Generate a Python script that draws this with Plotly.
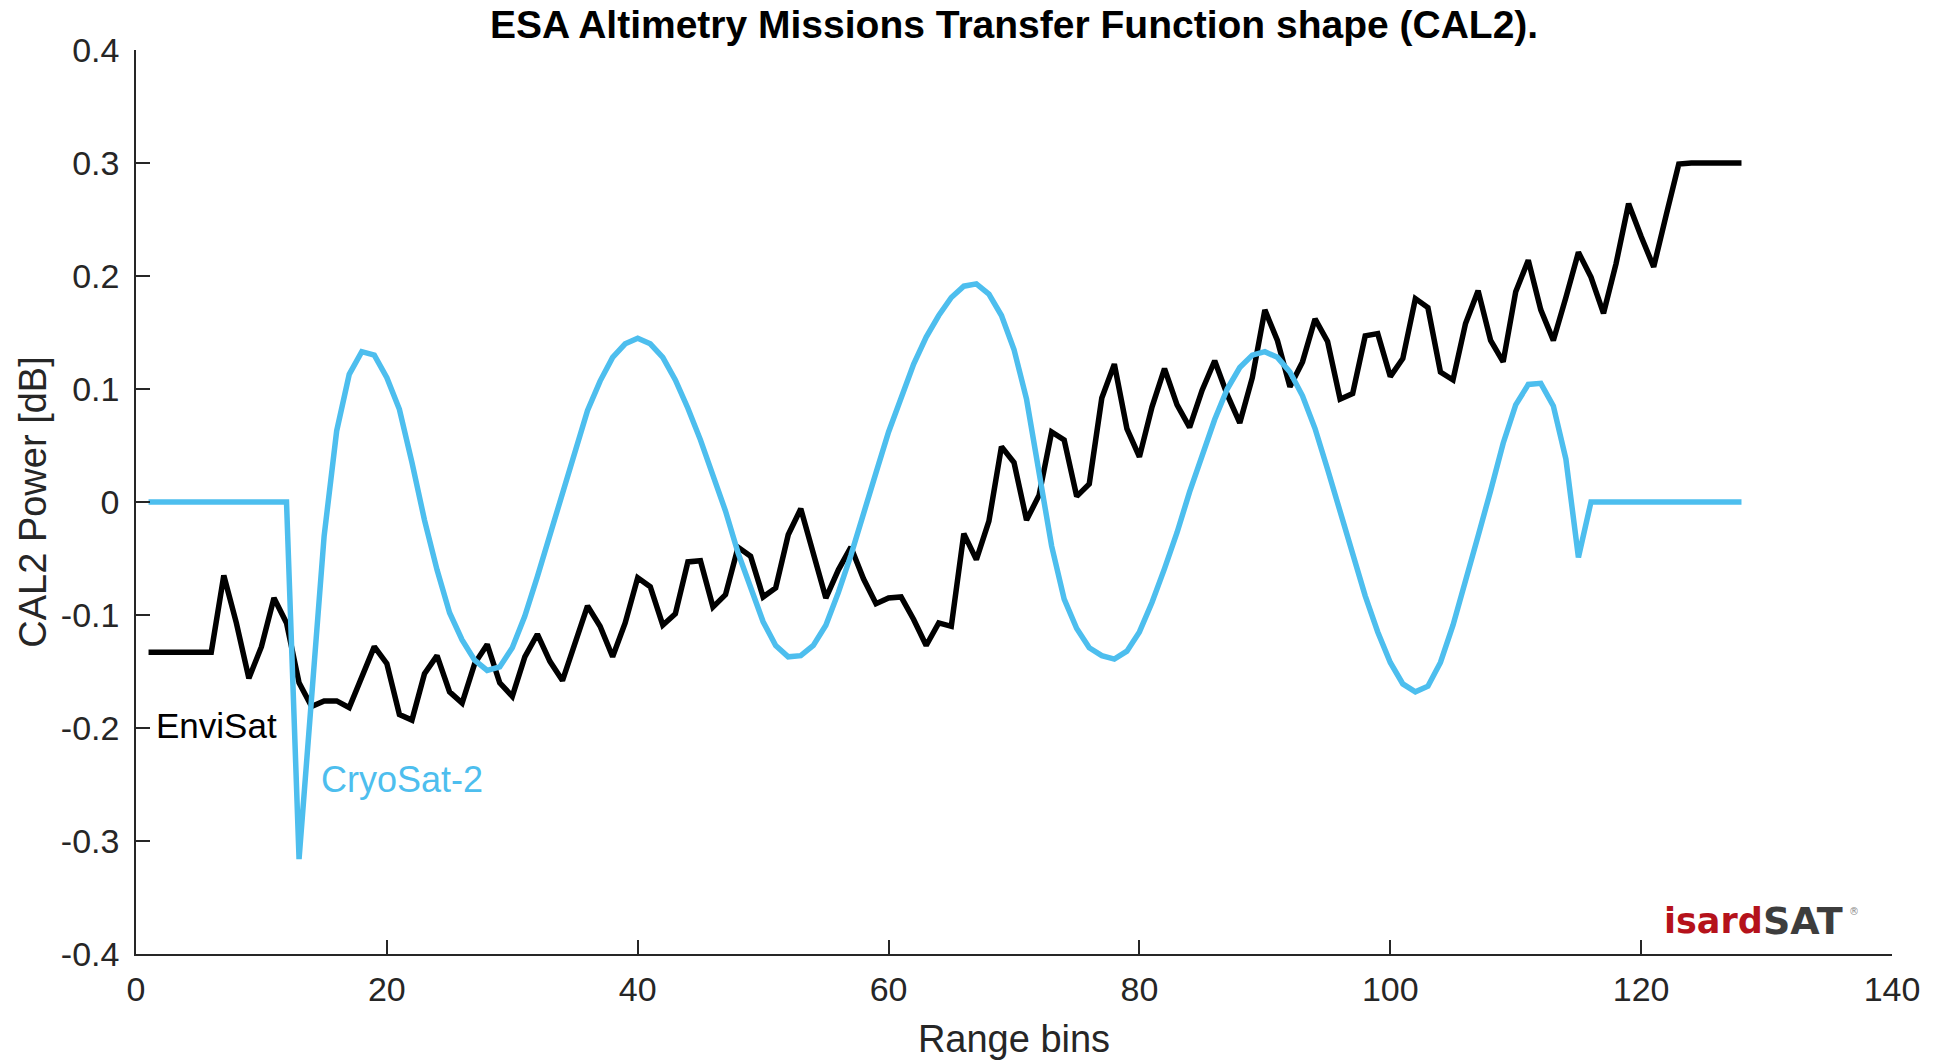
import plotly.graph_objects as go

# ---- data ----
bins = list(range(1, 129))

envisat = [
    -0.133, -0.133, -0.133, -0.133, -0.133, -0.133, -0.065, -0.107, -0.156, -0.128,
    -0.085, -0.107, -0.160, -0.181, -0.176, -0.176, -0.182, -0.155, -0.128, -0.143,
    -0.188, -0.193, -0.152, -0.136, -0.168, -0.178, -0.143, -0.126, -0.160, -0.172,
    -0.137, -0.117, -0.141, -0.158, -0.125, -0.092, -0.110, -0.137, -0.107, -0.067,
    -0.075, -0.109, -0.099, -0.053, -0.052, -0.093, -0.082, -0.040, -0.048, -0.084,
    -0.076, -0.029, -0.006, -0.045, -0.085, -0.060, -0.040, -0.068, -0.090, -0.085,
    -0.084, -0.104, -0.127, -0.107, -0.110, -0.028, -0.051, -0.017, 0.049, 0.035,
    -0.016, 0.006, 0.062, 0.055, 0.005, 0.016, 0.092, 0.122, 0.065, 0.040,
    0.084, 0.118, 0.086, 0.066, 0.099, 0.125, 0.095, 0.070, 0.110, 0.170,
    0.143, 0.102, 0.124, 0.162, 0.142, 0.091, 0.096, 0.147, 0.149, 0.111,
    0.127, 0.180, 0.172, 0.115, 0.108, 0.158, 0.187, 0.143, 0.124, 0.186,
    0.214, 0.170, 0.143, 0.181, 0.221, 0.199, 0.167, 0.211, 0.264, 0.235,
    0.208, 0.254, 0.299, 0.300, 0.300, 0.300, 0.300, 0.300,
]

cryosat2 = [
    0, 0, 0, 0, 0, 0, 0, 0, 0, 0,
    0, 0, -0.316, -0.170, -0.030, 0.063, 0.113, 0.133, 0.130, 0.110,
    0.082, 0.035, -0.016, -0.060, -0.098, -0.122, -0.140, -0.149, -0.146, -0.129,
    -0.101, -0.066, -0.029, 0.009, 0.046, 0.081, 0.107, 0.128, 0.140, 0.145,
    0.140, 0.128, 0.108, 0.083, 0.055, 0.025, -0.008, -0.045, -0.077, -0.106,
    -0.127, -0.137, -0.136, -0.127, -0.109, -0.080, -0.047, -0.012, 0.026, 0.062,
    0.093, 0.122, 0.146, 0.165, 0.181, 0.191, 0.193, 0.184, 0.165, 0.135,
    0.091, 0.023, -0.039, -0.086, -0.112, -0.129, -0.136, -0.139, -0.132, -0.115,
    -0.089, -0.059, -0.027, 0.009, 0.042, 0.073, 0.100, 0.119, 0.130, 0.133,
    0.128, 0.115, 0.094, 0.065, 0.029, -0.009, -0.047, -0.083, -0.115, -0.142,
    -0.161, -0.168, -0.163, -0.142, -0.109, -0.071, -0.030, 0.010, 0.052, 0.086,
    0.104, 0.105, 0.085, 0.038, -0.049, 0, 0, 0, 0, 0,
    0, 0, 0, 0, 0, 0, 0, 0,
]

x_ticks = [0, 20, 40, 60, 80, 100, 120, 140]
y_ticks = [0.4, 0.3, 0.2, 0.1, 0.0, -0.1, -0.2, -0.3, -0.4]
y_tick_labels = ["0.4", "0.3", "0.2", "0.1", "0", "-0.1", "-0.2", "-0.3", "-0.4"]

series_names = ["EnviSat", "CryoSat-2"]
# label anchor positions (data units)
label_x = [1.4, 14.6]
label_y = [-0.198, -0.246]

title_text = "ESA Altimetry Missions Transfer Function shape (CAL2)."
x_title = "Range bins"
y_title = "CAL2 Power [dB]"

# ---- styling ----
BLACK = "#000000"
BLUE = "#4DBEEE"
AXIS = "#262626"
FONT = "Liberation Sans, Arial, sans-serif"
LOGO_FONT = "DejaVu Sans, sans-serif"

fig = go.Figure()
fig.add_trace(go.Scatter(x=bins, y=envisat, mode="lines", name=series_names[0],
                         line=dict(color=BLACK, width=5.5)))
fig.add_trace(go.Scatter(x=bins, y=cryosat2, mode="lines", name=series_names[1],
                         line=dict(color=BLUE, width=5.5)))

fig.add_annotation(x=label_x[0], y=label_y[0], xref="x", yref="y", text=series_names[0],
                   showarrow=False, xanchor="left", yanchor="middle",
                   font=dict(family=FONT, size=35, color=BLACK))
fig.add_annotation(x=label_x[1], y=label_y[1], xref="x", yref="y", text=series_names[1],
                   showarrow=False, xanchor="left", yanchor="middle",
                   font=dict(family=FONT, size=36, color=BLUE))

# logo text: "isard" (red) + "SAT" (gray) + registered mark
logo_x = 0.9265
logo_y = 0.0365
fig.add_annotation(x=logo_x, y=logo_y, xref="paper", yref="paper", text="<b>isard</b>",
                   showarrow=False, xanchor="right", yanchor="middle", xshift=2,
                   font=dict(family=LOGO_FONT, size=35, color="#B5121B"))
fig.add_annotation(x=logo_x, y=logo_y, xref="paper", yref="paper", text="<b>SAT</b>",
                   showarrow=False, xanchor="left", yanchor="middle", xshift=-2,
                   font=dict(family=LOGO_FONT, size=38, color="#3D3D3D"))
fig.add_annotation(x=0.9745, y=0.047, xref="paper", yref="paper", text="®",
                   showarrow=False, xanchor="left", yanchor="middle",
                   font=dict(family=LOGO_FONT, size=10, color="#8a8a8a"))

fig.update_layout(
    width=1939, height=1061,
    margin=dict(l=136, r=47, t=50, b=107, autoexpand=False),
    paper_bgcolor="white", plot_bgcolor="white",
    showlegend=False,
    title=dict(text="<b>" + title_text + "</b>", x=0.523, xanchor="center",
               y=0.977, yanchor="middle",
               font=dict(family=FONT, size=39, color="#000000")),
    font=dict(family=FONT, size=34, color=AXIS),
)

fig.update_xaxes(range=[0, 140], tickvals=x_ticks, ticks="inside", ticklen=14,
                 tickwidth=1.5, tickcolor=AXIS, showline=True, linecolor=AXIS,
                 linewidth=1.5, showgrid=False, zeroline=False, mirror=False,
                 automargin=False, ticklabelstandoff=4,
                 tickfont=dict(family=FONT, size=34, color=AXIS),
                 title=dict(text=x_title, font=dict(family=FONT, size=38, color=AXIS), standoff=19))
fig.update_yaxes(range=[-0.4, 0.4], tickvals=y_ticks, ticktext=y_tick_labels,
                 ticks="inside", ticklen=14,
                 tickwidth=1.5, tickcolor=AXIS, showline=True, linecolor=AXIS,
                 linewidth=1.5, showgrid=False, zeroline=False, mirror=False,
                 automargin=False, ticklabelstandoff=8,
                 tickfont=dict(family=FONT, size=34, color=AXIS),
                 title=dict(text=y_title, font=dict(family=FONT, size=38, color=AXIS), standoff=3))

fig.write_html("out.html")
